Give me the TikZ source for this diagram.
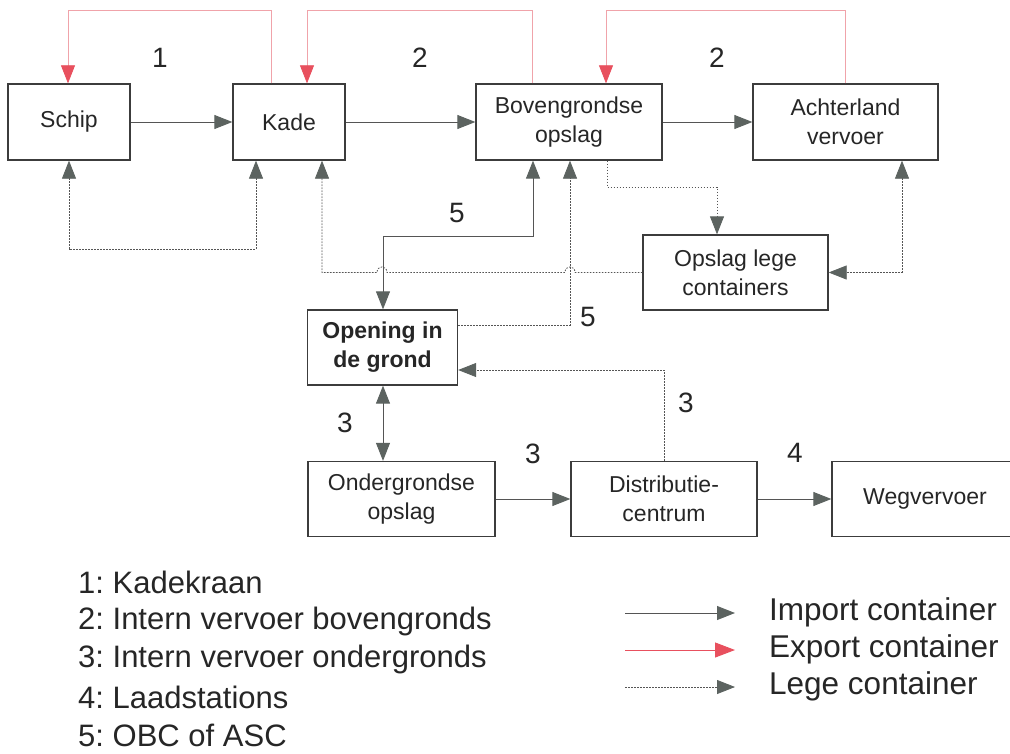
\documentclass[tikz,border=0pt]{standalone}
\usepackage{fontspec}
\setmainfont{Liberation Sans}
\usetikzlibrary{arrows.meta,calc}
\definecolor{boxline}{HTML}{3C3C3C}
\definecolor{flow}{HTML}{555555}
\definecolor{tipgray}{HTML}{5C6360}
\definecolor{exportred}{HTML}{E8505E}
\definecolor{exportline}{HTML}{F0A3AA}
\definecolor{ink}{HTML}{262626}
\frenchspacing

\tikzset{
  box/.style={draw=boxline, line width=1.3pt, rectangle, inner sep=0pt,
    align=center, text=ink, font=\fontsize{23}{29}\selectfont},
  boldbox/.style={box, font=\fontsize{23}{29}\selectfont\bfseries},
  num/.style={inner sep=0pt, text=ink, font=\fontsize{28}{28}\selectfont},
  keytext/.style={inner sep=0pt, anchor=west, text=ink, font=\fontsize{31}{31}\selectfont},
  flowtext/.style={keytext, font=\fontsize{31.5}{31.5}\selectfont},
  >={Triangle[length=18pt,width=14pt,color=tipgray]},
  imp/.style={draw=flow, line width=0.9pt},
  empty/.style={draw=flow, line width=0.8pt, dash pattern=on 1.6pt off 1.4pt},
  exp/.style={draw=exportline, line width=0.7pt,
    -{Triangle[length=18pt,width=14pt,color=exportred]}},
}

\begin{document}
\begin{tikzpicture}[x=1pt,y=-1pt]
  \useasboundingbox (0,0) rectangle (1010,753);
  \clip (0,0) rectangle (1010,753);

  % boxes
  \node[box, minimum width=122pt, minimum height=76pt] (schip) at (69,122) {Schip};
  \node[box, minimum width=112pt, minimum height=76pt] (kade) at (289,122) {Kade};
  \node[box, minimum width=186pt, minimum height=76pt] (bov) at (569,122) {Bovengrondse\\opslag};
  \node[box, minimum width=185pt, minimum height=76pt] (acht) at (845.5,122) {Achterland\\vervoer};
  \node[box, minimum width=185pt, minimum height=75pt] (lege) at (735.5,272.5) {Opslag lege\\containers};
  \node[boldbox, minimum width=150pt, minimum height=75pt] (open) at (382.5,347.5) {Opening in\\de grond};
  \node[box, minimum width=187pt, minimum height=75pt] (onder) at (401.5,499) {Ondergrondse\\opslag};
  \node[box, minimum width=186pt, minimum height=75pt] (distr) at (664,499) {Distributie-\\centrum};
  \node[box, minimum width=186pt, minimum height=75pt] (weg) at (925,499) {Wegvervoer};

  % import flows
  \draw[imp,->] (schip.east) -- (kade.west);
  \draw[imp,->] (kade.east) -- (bov.west);
  \draw[imp,->] (bov.east) -- (acht.west);
  \draw[imp,<->] (533,0 |- bov.south) -- (533,236) -- (383,236) -- (383,0 |- open.north);
  \draw[imp,<->] (383,0 |- open.south) -- (383,0 |- onder.north);
  \draw[imp,->] (onder.east) -- (distr.west);
  \draw[imp,->] (distr.east) -- (weg.west);

  % empty container flows
  \draw[empty,<->] (schip.south) |- (256,249) -- (256,0 |- kade.south);
  \draw[empty,->] (lege.west) -- (575,272.5)
      .. controls (575,265) and (565,265) .. (565,272.5) -- (387,272.5)
      .. controls (387,265) and (377,265) .. (377,272.5) -- (322,272.5)
      -- (322,0 |- kade.south);
  \draw[empty,->] (open.east |- 0,325) -- (570,325) -- (570,0 |- bov.south);
  \draw[empty,->] (607,0 |- bov.south) -- (607,187) -- (717,187) -- (717,0 |- lege.north);
  \draw[empty,<->] (902,0 |- acht.south) |- (lege.east);
  \draw[empty,->] (distr.north) -- (664,370) -- (open.east |- 0,370);

  % export flows
  \draw[exp] (271,0 |- kade.north) -- (271,10) -- (68,10) -- (68,0 |- schip.north);
  \draw[exp] (532,0 |- bov.north) -- (532,10) -- (307,10) -- (307,0 |- kade.north);
  \draw[exp] (845,0 |- acht.north) -- (845,10) -- (606,10) -- (606,0 |- bov.north);

  % equipment numbers
  \node[num] (n1) at (160,58) {1};
  \node[num] (n2a) at (420,58) {2};
  \node[num] (n2b) at (717,58) {2};
  \node[num] (n5a) at (457,213) {5};
  \node[num] (n5b) at (588,317) {5};
  \node[num] (n3a) at (345,423) {3};
  \node[num] (n3b) at (686,403) {3};
  \node[num] (n3c) at (533,454) {3};
  \node[num] (n4) at (795,453) {4};

  % equipment key
  \node[keytext] (k1) at (78,582) {1: Kadekraan};
  \node[keytext] (k2) at (78,621) {2: Intern vervoer bovengronds};
  \node[keytext] (k3) at (78,659) {3: Intern vervoer ondergronds};
  \node[keytext] (k4) at (78,697) {4: Laadstations};
  \node[keytext] (k5) at (78,735) {5: OBC of ASC};

  % flow key
  \coordinate (ia) at (625,613); \coordinate (ib) at (735,613);
  \coordinate (ea) at (625,650); \coordinate (eb) at (735,650);
  \coordinate (la) at (625,687); \coordinate (lb) at (735,687);
  \draw[imp,->] (ia) -- (ib);
  \draw[exportred, line width=1pt, -{Triangle[length=20pt,width=15pt,color=exportred]}] (ea) -- (eb);
  \draw[empty,->] (la) -- (lb);
  \node[flowtext] (ki) at (769,612) {Import container};
  \node[flowtext] (ke) at (769,649) {Export container};
  \node[flowtext] (kl) at (769,686) {Lege container};
\end{tikzpicture}
\end{document}
